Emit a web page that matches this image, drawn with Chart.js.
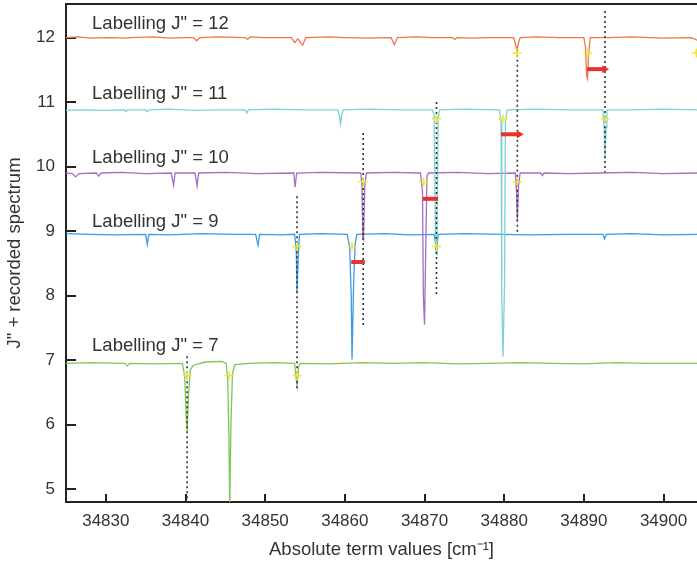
<!DOCTYPE html>
<html><head><meta charset="utf-8">
<script src="https://cdn.jsdelivr.net/npm/chart.js@4"></script>
<style>html,body{margin:0;padding:0;background:#fff}canvas{display:block}</style>
</head><body>
<canvas id="c" width="697" height="564"></canvas>
<script>
// ---- data ----
const xTicks = [34830, 34840, 34850, 34860, 34870, 34880, 34890, 34900];
const yTicks = [5, 6, 7, 8, 9, 10, 11, 12];

const j12X = [34825,34826.5,34828,34830.5,34832.7,34833,34836,34838,34840,34841.0,34841.4,34841.8,34844,34847.5,34847.8,34848.1,34850,34853.3,34853.7,34854.1,34854.7,34855.1,34858,34860,34863,34865.8,34866.2,34866.6,34869,34871,34873.5,34873.8,34874.1,34876,34878,34881.2,34881.4,34881.6,34881.8,34882.0,34884,34887,34890.0,34890.2,34890.35,34890.45,34890.6,34890.8,34893,34896,34900,34903.5,34904.2];
const j12Y = [12.00,12.01,11.99,12.00,11.99,12.00,12.01,11.99,12.00,12.00,11.95,12.00,12.01,12.00,11.97,12.01,12.00,12.00,11.92,11.98,11.88,12.00,12.01,12.00,11.99,12.00,11.89,12.00,12.01,12.00,12.00,11.97,12.00,11.99,12.00,12.00,11.90,11.80,11.92,12.00,12.01,12.00,12.00,11.85,11.40,11.36,11.75,12.00,12.00,12.01,11.99,12.00,11.96];

const j11X = [34825,34827,34830,34832.3,34832.5,34832.7,34835.0,34835.2,34835.4,34838,34841,34844,34847.5,34847.7,34847.9,34851,34855,34859.1,34859.3,34859.45,34859.6,34859.8,34863,34867,34871.0,34871.2,34871.4,34871.55,34871.7,34871.9,34875,34879.4,34879.6,34879.7,34879.85,34880.05,34880.15,34880.4,34884,34888,34892.4,34892.55,34892.65,34892.8,34892.9,34896,34900,34904.2];
const j11Y = [10.87,10.88,10.87,10.88,10.85,10.88,10.88,10.85,10.88,10.89,10.87,10.88,10.88,10.83,10.88,10.89,10.88,10.88,10.80,10.66,10.80,10.88,10.89,10.88,10.88,10.80,8.70,8.65,10.75,10.88,10.89,10.88,10.70,8.00,7.05,8.20,10.70,10.88,10.89,10.88,10.88,10.60,10.12,10.60,10.88,10.88,10.89,10.88];

const j10X = [34825,34825.8,34826.2,34826.6,34828.8,34829.1,34829.4,34832,34835,34838.2,34838.4,34838.5,34838.7,34841.2,34841.35,34841.45,34841.65,34845,34849,34853.6,34853.75,34853.95,34857,34862.0,34862.15,34862.25,34862.35,34862.5,34862.7,34866,34869.5,34869.75,34869.85,34870.0,34870.15,34870.3,34870.5,34874,34878,34881.4,34881.55,34881.65,34881.8,34882.0,34884.6,34884.8,34885.0,34888,34892,34896,34900,34904.2];
const j10Y = [9.90,9.89,9.84,9.89,9.90,9.85,9.90,9.91,9.89,9.90,9.78,9.71,9.90,9.90,9.78,9.70,9.90,9.91,9.89,9.90,9.68,9.90,9.91,9.90,9.70,8.90,8.87,9.70,9.90,9.91,9.90,9.60,8.00,7.55,8.70,9.85,9.90,9.91,9.89,9.90,9.60,9.15,9.70,9.90,9.90,9.86,9.90,9.89,9.90,9.91,9.89,9.90];

const j9X = [34825,34828,34831,34835.0,34835.2,34835.4,34838,34842,34846,34848.8,34849.1,34849.3,34852,34853.7,34853.9,34854.0,34854.15,34854.3,34857,34860.3,34860.6,34860.8,34860.9,34861.1,34861.3,34861.5,34865,34868,34871.2,34871.4,34871.5,34871.7,34875,34879.8,34883,34888,34892.4,34892.6,34892.8,34896,34900,34904.2];
const j9Y = [8.96,8.95,8.94,8.95,8.79,8.95,8.94,8.96,8.95,8.95,8.78,8.95,8.94,8.95,8.70,8.04,8.60,8.95,8.96,8.95,8.75,8.00,7.01,8.20,8.80,8.95,8.96,8.94,8.95,8.80,8.64,8.95,8.96,8.95,8.94,8.95,8.95,8.88,8.95,8.96,8.94,8.95];

const j7X = [34825,34828,34832.4,34832.7,34833.0,34836,34839.6,34839.9,34840.1,34840.2,34840.4,34840.6,34841.0,34842.5,34844.5,34845.1,34845.3,34845.45,34845.55,34845.7,34845.9,34846.2,34848,34851,34853.7,34853.9,34854.0,34854.2,34854.4,34858,34862,34866,34870,34874,34878,34882,34886,34890,34894,34898,34904.2];
const j7Y = [6.95,6.96,6.95,6.91,6.95,6.94,6.95,6.75,6.10,5.90,6.50,6.85,6.92,6.97,6.98,6.95,6.70,5.80,4.70,6.00,6.80,6.93,6.95,6.96,6.95,6.70,6.60,6.90,6.95,6.94,6.96,6.95,6.96,6.94,6.95,6.96,6.95,6.94,6.96,6.95,6.95];

// yellow assignment markers
const markX = [34881.6,34890.5,34904.1, 34871.5,34879.85,34892.65, 34862.3,34869.9,34881.65, 34854.0,34860.9,34871.5, 34840.2,34845.5,34854.0];
const markY = [11.76,11.76,11.76, 10.74,10.74,10.74, 9.76,9.76,9.76, 8.76,8.76,8.76, 6.76,6.76,6.76];

// dotted reference lines
const dotX = [34892.65, 34881.65, 34871.5, 34862.3, 34854.0, 34840.2];
const dotTop = [12.41, 11.81, 11.0, 10.52, 9.54, 7.06];
const dotBottom = [9.91, 8.97, 8.02, 7.51, 6.52, 4.8];

// red shift bars
const barStart = [34890.4, 34879.6, 34869.8, 34860.8];
const barEnd = [34892.6, 34881.9, 34871.7, 34862.5];
const barY = [11.51, 10.50, 9.50, 8.52];
const barArrow = [true, true, false, false];

// series labels
const labelText = ['Labelling J" = 12','Labelling J" = 11','Labelling J" = 10','Labelling J" = 9','Labelling J" = 7'];
const labelX = [34828.27, 34828.27, 34828.27, 34828.27, 34828.27];
const labelY = [12.13, 11.05, 10.06, 9.07, 7.14];

// ---- build chart ----
const zip = (xs, ys) => xs.map((x, i) => ({x, y: ys[i]}));
const FONT = "'Liberation Sans', Arial, Helvetica, sans-serif";
const datasets = [];

datasets.push({type:'line', data: zip(markX, markY), showLine:false, pointStyle:'cross',
  pointRadius:4.5, pointBorderWidth:1.5, borderColor:'#f3e33a', backgroundColor:'#f3e33a', order:0});

barStart.forEach((s, i) => {
  datasets.push({type:'line', data:[{x:s,y:barY[i]},{x:barEnd[i],y:barY[i]}],
    borderColor:'#e8302c', backgroundColor:'#e8302c', borderWidth:4, borderCapStyle:'butt',
    pointRadius: barArrow[i] ? [0,4.5] : 0, pointStyle:'triangle', rotation:90, pointBorderWidth:0, order:1});
});

dotX.forEach((x, i) => {
  datasets.push({type:'line', data:[{x,y:dotTop[i]},{x,y:dotBottom[i]}],
    borderColor:'#333', borderWidth:1.6, borderDash:[2,3], pointRadius:0, order:2});
});

const series = [
  [j12X, j12Y, '#ef7747'],
  [j11X, j11Y, '#7fd2d2'],
  [j10X, j10Y, '#a26fc2'],
  [j9X, j9Y, '#3b9be0'],
  [j7X, j7Y, '#7ec655']
];
series.forEach(([xs, ys, c], i) => {
  datasets.push({type:'line', data: zip(xs, ys), borderColor:c, borderWidth:1.3,
    pointRadius:0, tension:0, order:3 + i});
});

const labelPlugin = {
  id:'labels',
  afterDatasetsDraw(chart) {
    const {ctx, scales:{x, y}} = chart;
    ctx.save();
    ctx.fillStyle = '#333';
    ctx.font = "18.5px " + FONT;
    ctx.textAlign = 'left';
    ctx.textBaseline = 'alphabetic';
    labelText.forEach((t, i) => ctx.fillText(t, x.getPixelForValue(labelX[i]), y.getPixelForValue(labelY[i])));
    ctx.restore();
  }
};

const noPad = s => { s.paddingTop = 0; s.paddingBottom = 0; s.paddingLeft = 0; s.paddingRight = 0; };

new Chart(document.getElementById('c'), {
  data: { datasets },
  plugins: [labelPlugin],
  options: {
    responsive:false, animation:false, devicePixelRatio:1,
    layout:{padding:0, autoPadding:false},
    plugins:{legend:{display:false}, tooltip:{enabled:false}},
    scales:{
      x:{type:'linear', position:'bottom', min:34825, max:34904.2,
        afterBuildTicks(s){ s.ticks = xTicks.map(v=>({value:v})); },
        afterFit(s){ s.height = 62; noPad(s); },
        ticks:{color:'#333', font:{size:17, family:FONT}, padding:17, maxRotation:0, callback:v=>String(v)},
        grid:{drawOnChartArea:false, drawTicks:true, tickLength:-8, color:'#222', lineWidth:2},
        border:{display:true, color:'#222', width:2},
        title:{display:true, text:'Absolute term values [cm\u207B\u00B9]', color:'#333', font:{size:18.5, family:FONT}, padding:{top:0,bottom:3}}
      },
      x2:{type:'linear', position:'top', min:34825, max:34904.2,
        afterFit(s){ s.height = 4; noPad(s); },
        ticks:{display:false},
        grid:{display:true, drawOnChartArea:false, drawTicks:false, color:'#222'},
        border:{display:true, color:'#222', width:2}
      },
      y:{type:'linear', position:'left', min:4.8, max:12.52,
        afterBuildTicks(s){ s.ticks = yTicks.map(v=>({value:v})); },
        afterFit(s){ s.width = 66; noPad(s); },
        ticks:{color:'#333', font:{size:17, family:FONT}, padding:21},
        grid:{drawOnChartArea:false, drawTicks:true, tickLength:-10, color:'#222', lineWidth:2},
        border:{display:true, color:'#222', width:2},
        title:{display:true, text:'J" + recorded spectrum', color:'#333', font:{size:18.5, family:FONT}, padding:{top:4,bottom:0}}
      }
    }
  }
});
</script>
</body></html>
